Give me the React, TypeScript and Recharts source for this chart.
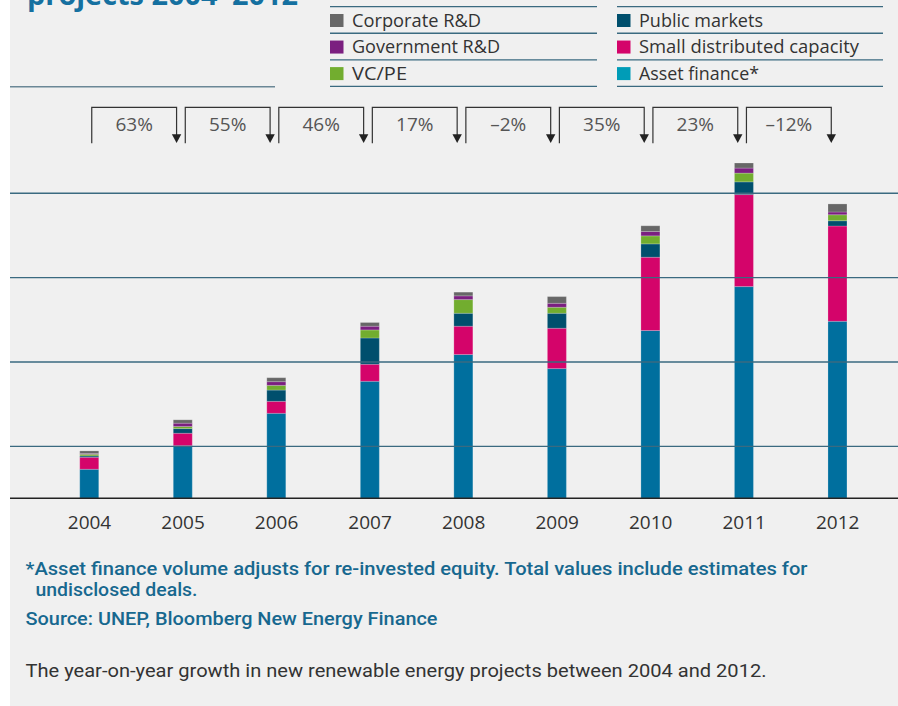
import React from 'react';
import { BarChart, Bar, XAxis, YAxis, ReferenceLine, LabelList } from 'recharts';

// ---- data ($bn) ----
const years = ['2004', '2005', '2006', '2007', '2008', '2009', '2010', '2011', '2012'];
const assetFinance = [24.2, 43.9, 70.8, 97.5, 119.8, 108.1, 139.8, 176.4, 147.5];
const smallDistributed = [10.0, 10.3, 10.0, 14.2, 23.6, 33.6, 61.1, 76.7, 79.4];
const publicMarkets = [1.1, 3.9, 9.4, 21.9, 10.8, 12.5, 11.1, 10.6, 4.4];
const vcPe = [1.4, 1.7, 3.9, 6.7, 11.4, 5.0, 6.7, 7.3, 5.0];
const governmentRD = [0.6, 2.8, 3.1, 3.1, 3.1, 3.3, 3.6, 4.2, 2.3];
const corporateRD = [2.2, 2.8, 3.3, 3.1, 3.1, 5.6, 4.8, 4.2, 6.7];
const growth = ['63%', '55%', '46%', '17%', '\u20132%', '35%', '23%', '\u201312%'];
const gridValues = [43.3, 113.6, 183.9, 254.2];

const legendLeft = [
  { name: 'Corporate R&D', color: '#676767', len: 129 },
  { name: 'Government R&D', color: '#7b1f80', len: 148 },
  { name: 'VC/PE', color: '#72ad2f', len: 55 },
];
const legendRight = [
  { name: 'Public markets', color: '#004f6d', len: 124 },
  { name: 'Small distributed capacity', color: '#d4046a', len: 220 },
  { name: 'Asset finance*', color: '#009cb7', len: 120 },
];

const data = years.map((y, i) => ({
  year: y,
  asset: assetFinance[i],
  small: smallDistributed[i],
  pub: publicMarkets[i],
  vc: vcPe[i],
  gov: governmentRD[i],
  corp: corporateRD[i],
}));

// ---- layout ----
const W = 898;
const H = 706;
const M_LEFT = 10;
const M_RIGHT = 0;
const PAD_L = 32.75;
const PAD_R = 13.5;
const BAND = (W - M_LEFT - M_RIGHT - PAD_L - PAD_R) / years.length;
const FONT = '"Open Sans", sans-serif';

const GrowthLabel = (props: any) => {
  const { x, width, index } = props;
  if (index === 0 || x == null) return null;
  const cx = Number(x) + Number(width) / 2;
  const left = cx - BAND + 2.5;
  const right = cx - 6.2;
  const top = 107.3;
  return (
    <g>
      <path d={`M${left},143.3 V${top} H${right} V136`} fill="none" stroke="#333" strokeWidth={1.2} />
      <polygon points={`${right - 4.7},134.3 ${right + 4.7},134.3 ${right},143`} fill="#222" />
      <text x={(left + right) / 2} y={130.5} textAnchor="middle" fontFamily={FONT} fontSize={19} fill="#555">
        {growth[index - 1]}
      </text>
    </g>
  );
};

const barStroke = { stroke: '#ffffff', strokeOpacity: 0.25, strokeWidth: 0.8 };

export default function App() {
  return (
    <div style={{ position: 'absolute', left: 0, top: 0, width: W, height: H, background: '#ffffff', overflow: 'hidden' }}>
      <div style={{ position: 'absolute', left: 10, top: 0, width: W - 10, height: H, background: '#f0f0f0' }} />
      <div style={{ position: 'absolute', left: 0, top: 0 }}>
        <BarChart
          width={W}
          height={H}
          data={data}
          margin={{ top: 138.3, right: M_RIGHT, left: M_LEFT, bottom: 177.7 }}
        >
          <YAxis hide domain={[0, 300]} />
          {gridValues.map((v) => (
            <ReferenceLine key={v} y={v} stroke="#3a6a80" strokeWidth={1.3} />
          ))}
          <XAxis
            dataKey="year"
            height={30}
            padding={{ left: PAD_L, right: PAD_R }}
            tickLine={false}
            tickMargin={11}
            axisLine={{ stroke: '#222', strokeWidth: 1.6 }}
            tick={{ fontSize: 19, fill: '#333', fontFamily: FONT }}
            interval={0}
          />
          <Bar dataKey="asset" stackId="a" fill="#006f9e" barSize={19} isAnimationActive={false} {...barStroke} />
          <Bar dataKey="small" stackId="a" fill="#d4046a" barSize={19} isAnimationActive={false} {...barStroke} />
          <Bar dataKey="pub" stackId="a" fill="#004f6d" barSize={19} isAnimationActive={false} {...barStroke} />
          <Bar dataKey="vc" stackId="a" fill="#72ad2f" barSize={19} isAnimationActive={false} {...barStroke} />
          <Bar dataKey="gov" stackId="a" fill="#7b1f80" barSize={19} isAnimationActive={false} {...barStroke} />
          <Bar dataKey="corp" stackId="a" fill="#676767" barSize={19} isAnimationActive={false} {...barStroke}>
            <LabelList dataKey="corp" content={GrowthLabel} />
          </Bar>
        </BarChart>
      </div>
      <svg width={W} height={H} style={{ position: 'absolute', left: 0, top: 0, pointerEvents: 'none' }}>
        {/* title, cut off at the top edge as in the reference */}
        <text x={27} y={5} fontFamily={FONT} fontWeight={700} fontSize={28} fill="#1570a0" textLength={271} lengthAdjust="spacingAndGlyphs">
          projects 2004{'\u2013'}2012
        </text>
        <line x1={10} x2={275} y1={86.7} y2={86.7} stroke="#6b8796" strokeWidth={1.5} />
        {/* legend */}
        {[0, 1, 2, 3].map((r) => (
          <g key={'l' + r}>
            <line x1={330} x2={597} y1={6.7 + r * 26.55} y2={6.7 + r * 26.55} stroke="#3a6a80" strokeWidth={1.3} />
            <line x1={617} x2={883} y1={6.7 + r * 26.55} y2={6.7 + r * 26.55} stroke="#3a6a80" strokeWidth={1.3} />
          </g>
        ))}
        {legendLeft.map((it, r) => (
          <g key={it.name}>
            <rect x={330} y={14 + r * 26.55} width={13.5} height={13} fill={it.color} />
            <text x={352} y={26.8 + r * 26.55} fontFamily={FONT} fontSize={17.5} fill="#333" textLength={it.len} lengthAdjust="spacingAndGlyphs">{it.name}</text>
          </g>
        ))}
        {legendRight.map((it, r) => (
          <g key={it.name}>
            <rect x={617} y={14 + r * 26.55} width={13.5} height={13} fill={it.color} />
            <text x={639} y={26.8 + r * 26.55} fontFamily={FONT} fontSize={17.5} fill="#333" textLength={it.len} lengthAdjust="spacingAndGlyphs">{it.name}</text>
          </g>
        ))}
        {/* footnotes */}
        <text x={25.5} y={575} fontFamily="Roboto, sans-serif" fontWeight={500} fontSize={17.5} fill="#17688f" textLength={782} lengthAdjust="spacingAndGlyphs">
          *Asset finance volume adjusts for re-invested equity. Total values include estimates for
        </text>
        <text x={35.5} y={595.5} fontFamily="Roboto, sans-serif" fontWeight={500} fontSize={17.5} fill="#17688f" textLength={162} lengthAdjust="spacingAndGlyphs">
          undisclosed deals.
        </text>
        <text x={25.5} y={624.5} fontFamily="Roboto, sans-serif" fontWeight={500} fontSize={17.5} fill="#17688f" textLength={412} lengthAdjust="spacingAndGlyphs">
          Source: UNEP, Bloomberg New Energy Finance
        </text>
        <text x={25.5} y={677} fontFamily="Roboto, sans-serif" fontWeight={400} fontSize={19} fill="#333" textLength={741} lengthAdjust="spacingAndGlyphs">
          The year-on-year growth in new renewable energy projects between 2004 and 2012.
        </text>
      </svg>
    </div>
  );
}
